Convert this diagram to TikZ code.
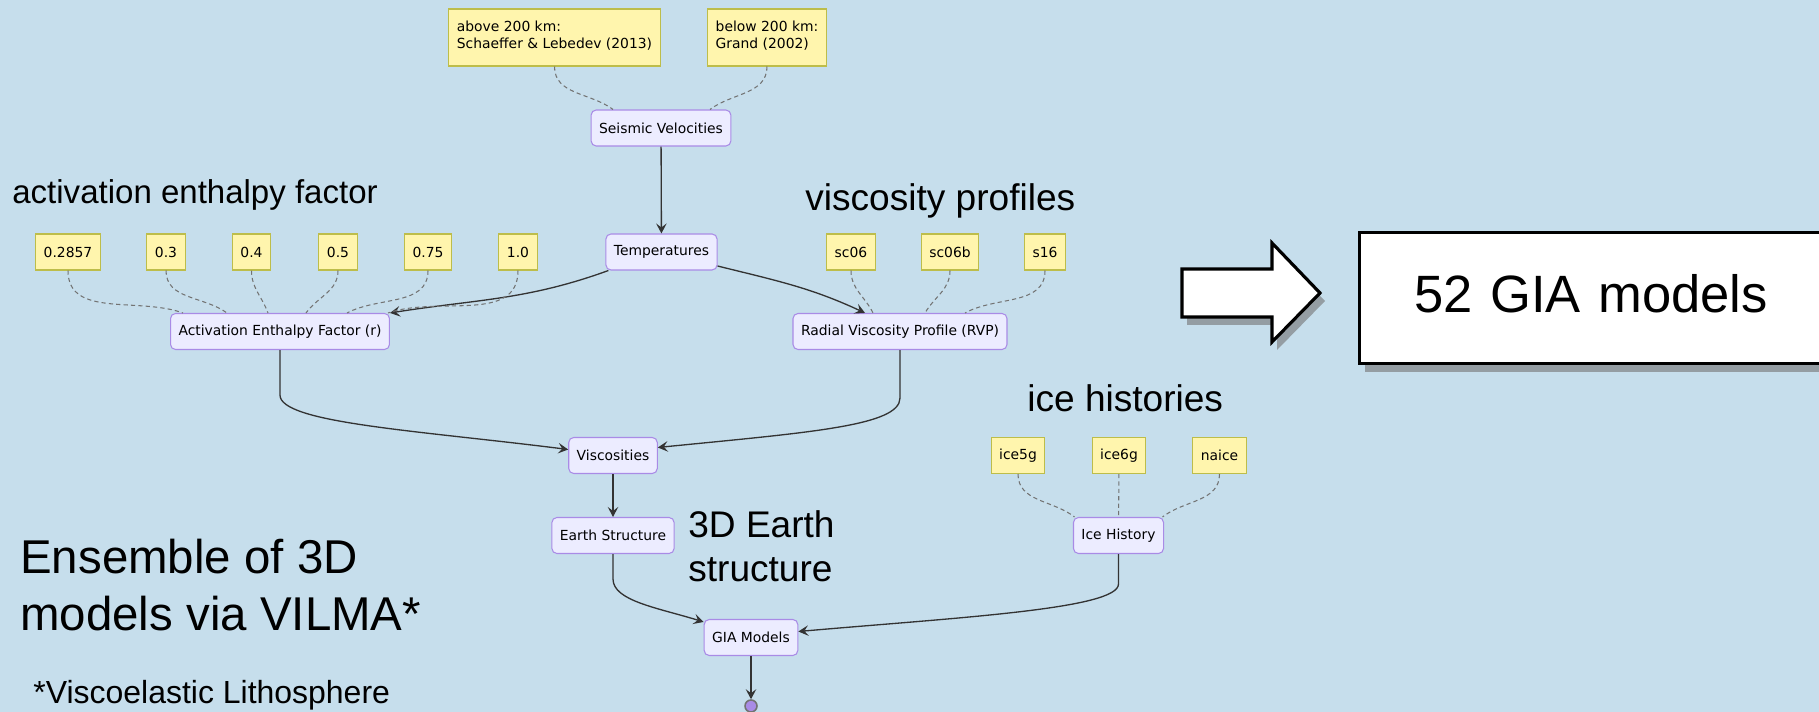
\documentclass[tikz,border=0pt]{standalone}
\usepackage{fontspec}
\setmainfont{Liberation Sans}
\newfontfamily\arialfont{Liberation Sans}
\newfontfamily\chartfont{DejaVu Sans}
\usetikzlibrary{arrows.meta, calc, shadows}
\usepackage{xcolor}
\definecolor{Backdrop}{HTML}{C6DEEC}
\definecolor{NoteFill}{HTML}{FFF5AD}
\definecolor{NoteLine}{HTML}{BDBD4A}
\definecolor{StageFill}{HTML}{ECECFF}
\definecolor{StageLine}{HTML}{A98BE6}
\definecolor{Gray20}{HTML}{333333}
\definecolor{Gray45}{gray}{0.45}

\begin{document}
\begin{tikzpicture}[
    x=0.02cm, y=0.02cm,
    % Global Styles
    font=\chartfont\fontsize{7.9}{9.6}\selectfont,
    % Yellow input boxes
    param/.style={
        rectangle,
        draw=NoteLine,
        fill=NoteFill,
        line width=0.6pt,
        minimum height=0.72cm,
        inner xsep=0.16cm,
        inner ysep=0pt
    },
    % Purple processing steps
    stage/.style={
        rectangle,
        rounded corners=0.1cm,
        draw=StageLine,
        fill=StageFill,
        line width=0.6pt,
        minimum height=0.72cm,
        inner xsep=0.16cm,
        inner ysep=0pt
    },
    % Dashed links from inputs
    link/.style={
        draw=Gray45,
        line width=0.6pt,
        dash pattern=on 2.4pt off 1.8pt
    },
    % Connector line style
    flow/.style={
        draw=Gray20,
        line width=0.75pt,
        -{Stealth[length=0.2cm,width=0.21cm,inset=0.08cm]}
    },
    % Large annotation text
    heading/.style={
        anchor=base west,
        inner sep=0pt,
        align=left,
        text=black
    },
    % Summary box and arrow
    bigbox/.style={
        rectangle,
        draw=black,
        fill=white,
        line width=1.8pt,
        drop shadow={shadow xshift=0.1cm, shadow yshift=-0.16cm, fill=Gray45, opacity=0.6}
    }
]

    % --- Canvas ---
    \path[use as bounding box, fill=Backdrop] (0,0) rectangle (1819,-712);

    % --- Nodes ---

    % 1. Seismic models
    \node[param, align=left, minimum height=1.14cm] (above) at (554.5,-37.5) {above 200 km:\\Schaeffer \& Lebedev (2013)\\[-6pt]\mbox{}};
    \node[param, align=left, minimum height=1.14cm] (below) at (767,-37.5) {below 200 km:\\Grand (2002)\\[-6pt]\mbox{}};
    \node[stage] (seis) at (661,-128) {Seismic Velocities};

    % 2. Temperatures
    \node[stage] (temp) at (661.5,-252) {Temperatures};

    % 3. Activation enthalpy factors
    \foreach \n/\x/\v in {f1/68/0.2857, f2/166/0.3, f3/251.5/0.4, f4/338/0.5, f5/428/0.75, f6/518/1.0}
        \node[param] (\n) at (\x,-252) {\v};
    \node[stage] (act) at (280,-331.5) {Activation Enthalpy Factor (r)};

    % 4. Viscosity profiles
    \foreach \n/\x in {sc06/851, sc06b/950, s16/1045}
        \node[param] (\n) at (\x,-252) {\n};
    \node[stage] (rvp) at (900,-331.5) {Radial Viscosity Profile (RVP)};

    % 5. Viscosities and Earth structure
    \node[stage] (visc) at (613,-455.5) {Viscosities};
    \node[stage] (earth) at (613,-535.5) {Earth Structure};

    % 6. Ice histories
    \foreach \n/\x in {ice5g/1018, ice6g/1119, naice/1219.5}
        \node[param] (\n) at (\x,-455.5) {\n};
    \node[stage] (icehist) at (1118.5,-535.5) {Ice History};

    % 7. GIA models
    \node[stage] (gia) at (751,-637.5) {GIA Models};
    \node[circle, draw=Gray45, fill=StageLine, line width=0.9pt, minimum size=0.24cm, inner sep=0pt] (stop) at (751,-706) {};

    % --- Edges ---

    % Seismic sources -> Seismic Velocities
    \draw[link] (above.south) to[out=-90, in=143] ($(seis.north)+(-48,0)$);
    \draw[link] (below.south) to[out=-90, in=37] ($(seis.north)+(49,0)$);

    % Seismic Velocities -> Temperatures
    \draw[flow] (seis) -- (temp);

    % Temperatures -> Activation / RVP
    \draw[flow] ($(temp.south west)+(3,0)$) to[out=200, in=9] (act.north east);
    \draw[flow] ($(temp.east)+(0,-14)$) to[out=-14, in=155] ($(rvp.north)+(-35,0)$);

    % Factors -> Activation
    \foreach \n/\dx/\a in {f1/-97/160, f2/-53/144, f3/-12/110, f4/26/54, f5/67/28, f6/108/19}
        \draw[link] (\n.south) to[out=-90, in=\a] ($(act.north)+(\dx,0)$);

    % Profiles -> RVP
    \foreach \n/\dx/\a in {sc06/-27/116, sc06b/25/60, s16/65/29}
        \draw[link] (\n.south) to[out=-90, in=\a] ($(rvp.north)+(\dx,0)$);

    % Activation / RVP -> Viscosities
    \draw[flow] (act.south) -- ++(0,-45) .. controls +(0,-28) and +(-150,19) .. ($(visc.west)+(0,6)$);
    \draw[flow] (rvp.south) -- ++(0,-48) .. controls +(0,-28) and +(150,15) .. ($(visc.east)+(0,8)$);

    % Viscosities -> Earth Structure
    \draw[flow] (visc) -- (earth);

    % Ice models -> Ice History
    \draw[link] (ice5g.south) to[out=-90, in=142] ($(icehist.north)+(-44,0)$);
    \draw[link] (ice6g) -- (icehist);
    \draw[link] (naice.south) to[out=-90, in=38] ($(icehist.north)+(44,0)$);

    % Earth Structure / Ice History -> GIA Models
    \draw[flow] (earth.south) -- ++(0,-25) .. controls +(0,-22) and +(-45,14) .. ($(gia.north west)+(0,-3)$);
    \draw[flow] (icehist.south) -- ++(0,-30) .. controls +(0,-25) and +(160,14) .. ($(gia.east)+(0,6)$);

    % GIA Models -> end
    \draw[flow] (gia) -- (stop);

    % --- Annotations ---
    \node[heading, font=\arialfont\fontsize{18.8}{22.6}\selectfont] (acttitle) at (12,-204) {activation enthalpy factor};
    \node[heading, font=\arialfont\fontsize{21.1}{25.3}\selectfont] (visctitle) at (805,-211) {viscosity profiles};
    \node[heading, font=\arialfont\fontsize{21.1}{25.3}\selectfont] (icetitle) at (1027,-412) {ice histories};
    \node[heading, font=\arialfont\fontsize{21.1}{25.3}\selectfont] (earthtitle) at (688,-582) {3D Earth\\structure};
    \node[heading, font=\arialfont\fontsize{27}{32.4}\selectfont] (ensemble) at (20,-630) {Ensemble of 3D\\models via VILMA*};
    \node[heading, font=\arialfont\fontsize{18.2}{21.8}\selectfont] (footnote) at (33,-703) {*Viscoelastic Lithosphere};

    % --- Summary ---
    \path[bigbox] (1182,-269) -- (1272,-269) -- (1272,-243) -- (1320,-293)
        -- (1272,-342) -- (1272,-317) -- (1182,-317) -- cycle;
    \node[bigbox, anchor=north west, minimum width=10.2cm, minimum height=2.62cm,
        text width=8cm, text depth=0.2cm, inner xsep=1.1cm, align=left,
        font=\arialfont\fontsize{29.9}{35.9}\selectfont] (total) at (1358,-231) {52 GIA models};

\end{tikzpicture}
\end{document}
